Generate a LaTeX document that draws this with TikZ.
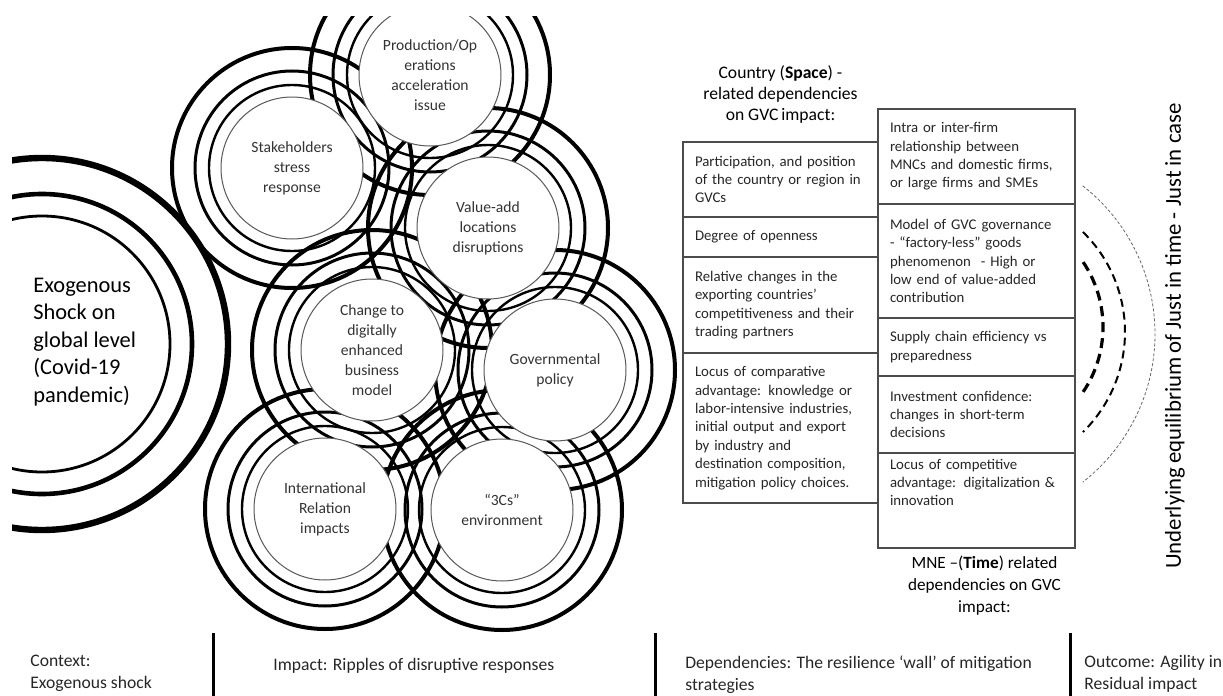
\documentclass[tikz,border=0pt]{standalone}
\usepackage{fontspec}
\setmainfont{Carlito}
\usepackage{tikz}
\usetikzlibrary{positioning}
\tikzset{
  ripple/.style={circle,draw=black!65,line width=0.5pt,fill=white,minimum size=71pt,inner sep=0pt,align=center,text=black!80,font=\fontsize{7.8}{10}\selectfont},
  ring/.style={line width=1.2pt},
  outer ring/.style={line width=2pt},
  cell/.style={draw=black!70,line width=0.6pt,rectangle,outer sep=0pt,inner xsep=6pt,inner ysep=0pt,text width=85.5pt,align=left,text=black!85,font=\fontsize{7.4}{9.2}\selectfont},
  head/.style={align=center,inner sep=0pt,font=\fontsize{8.8}{10.5}\selectfont},
  stage/.style={anchor=north west,align=left,inner sep=0pt,text=black!85,font=\fontsize{8.8}{11}\selectfont,execute at begin node=\strut},
  divider/.style={line width=1.5pt},
}

\begin{document}
\begin{tikzpicture}[x=0.5pt,y=-0.5pt]
    \useasboundingbox (0,0) rectangle (1223,696);
    % centres of the ripples
    \coordinate (c-shock) at (42,344);
    \coordinate (c-prod) at (430,75);
    \coordinate (c-stake) at (292,168);
    \coordinate (c-value) at (488,228);
    \coordinate (c-change) at (372,350);
    \coordinate (c-gov) at (555,370);
    \coordinate (c-intl) at (325,509);
    \coordinate (c-cs) at (502,510);

    \begin{scope}
    \clip (12,16) rectangle (700,696);
    % exogenous shock
    \draw[line width=1.4pt] (c-shock) circle[radius=128];
    \draw[line width=2.3pt] (c-shock) circle[radius=150];
    \draw[line width=3.2pt] (c-shock) circle[radius=186];
    % rings of each ripple
    \foreach \p in {prod,stake,value,change,gov,intl,cs}{
        \draw[ring] (c-\p) circle[radius=83];
        \draw[ring,line width=1.5pt] (c-\p) circle[radius=97];
        \draw[outer ring] (c-\p) circle[radius=120];
    }
    \node[ripple] (prod) at (c-prod) {Production/Op\\erations\\acceleration\\issue};
    \node[ripple] (stake) at (c-stake) {Stakeholders\\stress\\response};
    \node[ripple] (value) at (c-value) {Value-add\\locations\\disruptions};
    \node[ripple] (change) at (c-change) {Change to\\digitally\\enhanced\\business\\model};
    \node[ripple] (gov) at (c-gov) {Governmental\\policy};
    \node[ripple] (intl) at (c-intl) {International\\Relation\\impacts};
    \node[ripple] (cs) at (c-cs) {“3Cs”\\environment};
    \end{scope}

    \node[anchor=west,align=left,inner sep=0pt,font=\fontsize{11.2}{13.8}\selectfont] (shock) at (33,342)
        {Exogenous\\Shock on\\global level\\(Covid-19\\pandemic)};

    % country (space) wall
    \node[cell,minimum height=37.5pt,anchor=north west] (l1) at (683,142)
        {Participation, and position\\of the country or region in\\GVCs};
    \node[cell,minimum height=20pt,below=0pt of l1] (l2) {Degree of openness};
    \node[cell,minimum height=48pt,below=0pt of l2] (l3)
        {Relative changes in the\\exporting countries’\\competitiveness and their\\trading partners};
    \node[cell,minimum height=75pt,below=0pt of l3] (l4)
        {Locus of comparative\\advantage: knowledge or\\labor-intensive industries,\\initial output and export\\by industry and\\destination composition,\\mitigation policy choices.};
    \node[head,above=9pt of l1] (space) {Country (\textbf{Space}) -\\related dependencies\\on GVC\,impact:};

    % MNE (time) wall
    \node[cell,text width=86.5pt,minimum height=47.5pt,anchor=north west] (r1) at (878,109)
        {Intra or inter-firm\\relationship between\\MNCs and domestic firms,\\or large firms and SMEs};
    \node[cell,text width=86.5pt,minimum height=57pt,below=0pt of r1] (r2)
        {Model of GVC governance\\- “factory-less” goods\\phenomenon\ \ - High or\\low end of value-added\\contribution};
    \node[cell,text width=86.5pt,minimum height=29pt,below=0pt of r2] (r3)
        {Supply chain efficiency vs\\preparedness};
    \node[cell,text width=86.5pt,minimum height=38.5pt,below=0pt of r3] (r4)
        {Investment confidence:\\changes in short-term\\decisions};
    \node[cell,text width=86.5pt,minimum height=47.5pt,below=0pt of r4] (r5)
        {Locus of competitive\\advantage: digitalization \&\\innovation\\[9pt]\mbox{}};
    \node[head,font=\fontsize{8.6}{11}\selectfont,below=4pt of r5,xshift=4pt] (time)
        {MNE –(\textbf{Time}) related\\dependencies on GVC\\impact:};

    % just in time / just in case
    \draw[black!60,line width=0.4pt,dash pattern=on 1.5pt off 1pt] (967,334) ++(-52:188) arc[start angle=-52,end angle=52,radius=188];
    \draw[line width=1pt,dash pattern=on 4pt off 2.5pt] (985,332) ++(-45.6:140) arc[start angle=-45.6,end angle=45.6,radius=140];
    \draw[line width=1.6pt,dash pattern=on 5pt off 3pt] (987,327) ++(-34:116) arc[start angle=-34,end angle=34,radius=116];
    \node[rotate=90,inner sep=0pt,font=\fontsize{11.4}{13}\selectfont] (balance) at (1175,336)
        {Underlying\,equilibrium\,of Just in time - Just in case};

    % stages along the bottom
    \node[stage] (context) at (30,655) {Context:\\Exogenous shock};
    \node[stage] (impact) at (273,655) {Impact: Ripples of disruptive responses};
    \node[stage] (wall) at (685,655) {Dependencies: The resilience ‘wall’ of mitigation\\strategies};
    \node[stage] (outcome) at (1084,655) {Outcome: Agility in\\Residual impact};
    \draw[divider] (213,633) -- (213,696);
    \draw[divider] (655,633) -- (655,696);
    \draw[divider] (1070,633) -- (1070,696);
\end{tikzpicture}
\end{document}
